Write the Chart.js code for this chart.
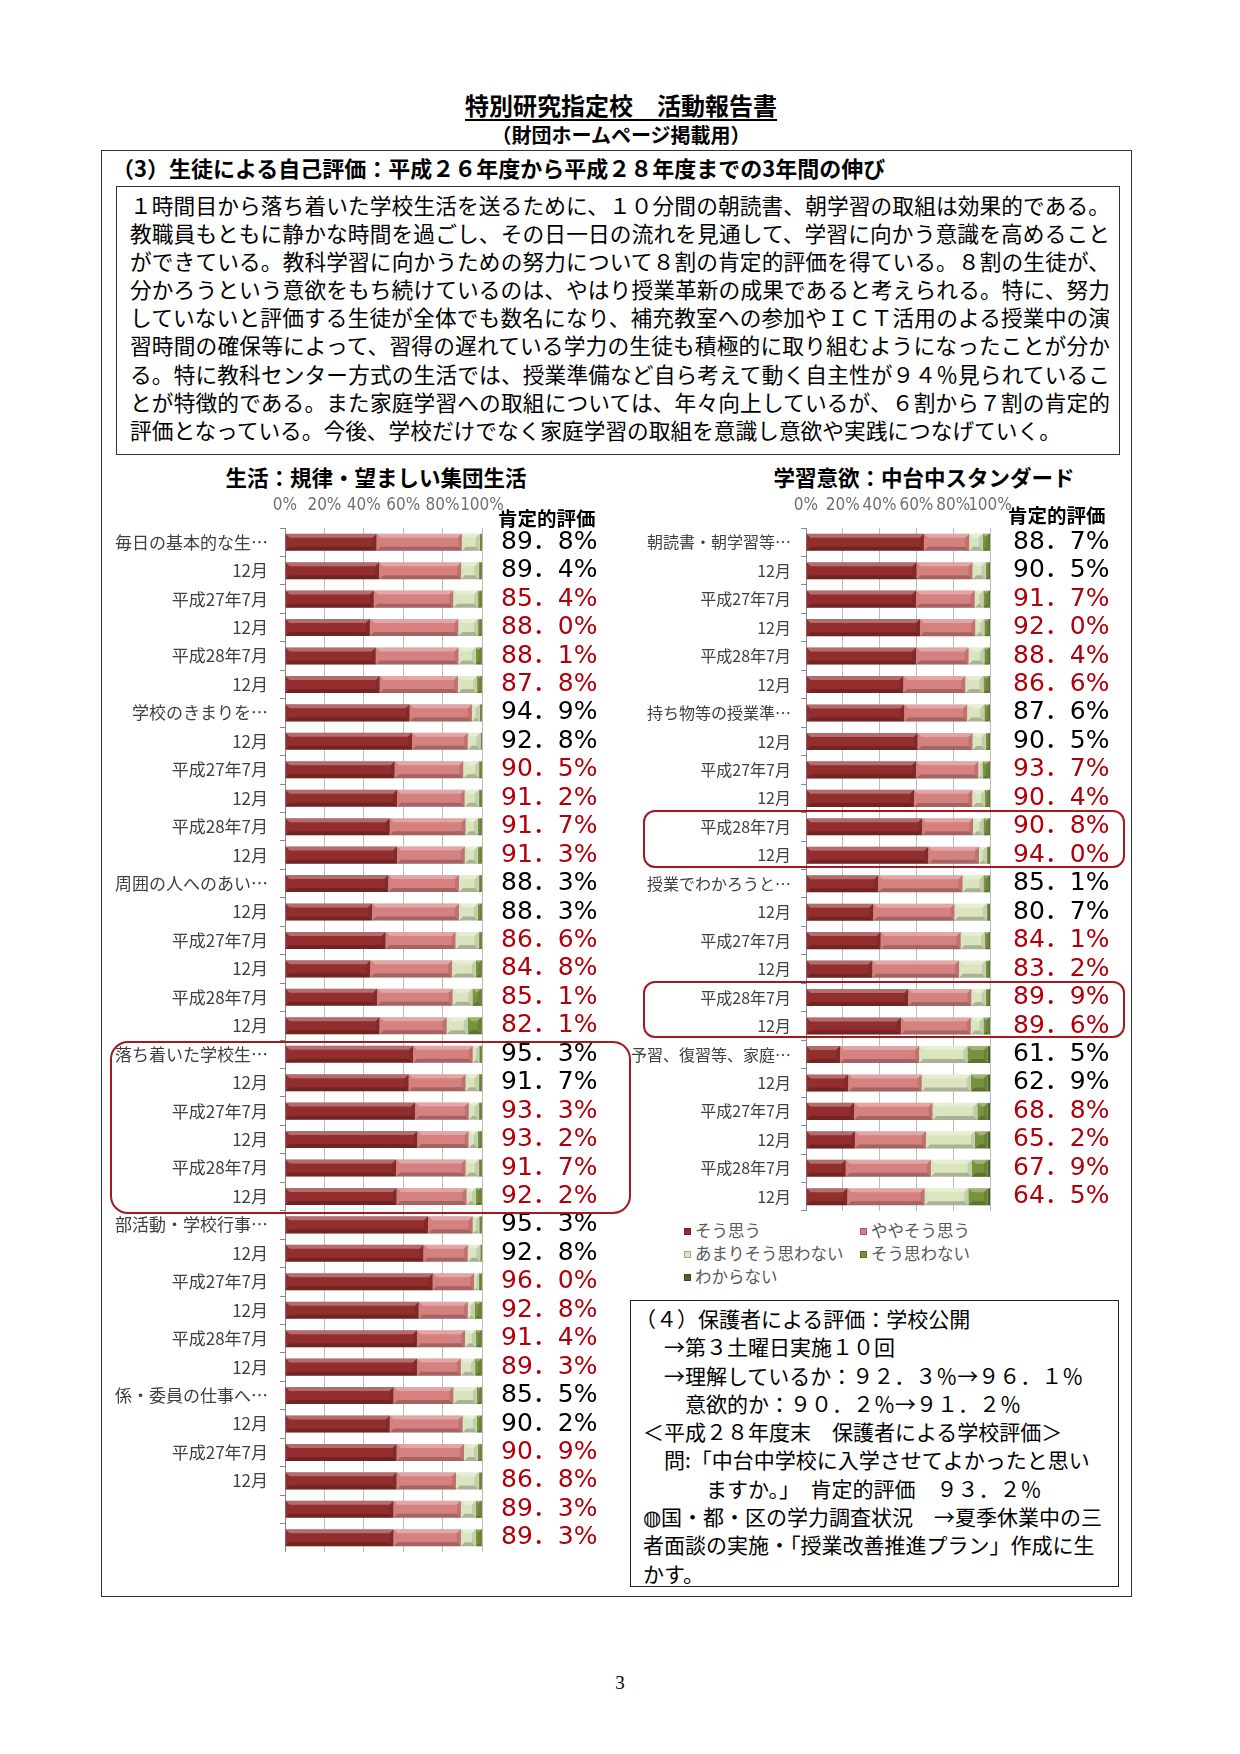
<!DOCTYPE html>
<html lang="ja">
<head>
<meta charset="utf-8">
<title>特別研究指定校 活動報告書</title>
<script src="https://cdn.jsdelivr.net/npm/chart.js@4.4.1/dist/chart.umd.min.js"></script>
<style>
  html, body { margin: 0; padding: 0; background: #fff; }
  body { width: 1240px; height: 1754px; position: relative; overflow: hidden;
         font-family: 'Noto Sans CJK JP', sans-serif; color: #000; }
  .t { position: absolute; white-space: nowrap; line-height: 1; }
  .box { position: absolute; box-sizing: border-box; border: 1px solid #333; }
  .frame { position: absolute; box-sizing: border-box; border: 2.5px solid #a3191f; z-index: 5; }
  canvas { position: absolute; }
  #note { position: absolute; left: 130px; top: 191px; width: 980px; font-size: 21.7px; line-height: 28.1px; }
  #note div { white-space: nowrap; text-align: justify; text-align-last: justify; }
  #note div.last { text-align-last: left; }
  #parents { position: absolute; left: 643px; top: 1304px; font-size: 21px; line-height: 28.3px; }
  #parents div { white-space: pre; }
  #legend { position: absolute; left: 684px; top: 1219px; display: grid;
            grid-template-columns: 176px 176px; font-size: 16.5px; line-height: 23px; color: #595959; }
  #legend span.m { display: inline-block; width: 7px; height: 7px; margin-right: 4px;
                   vertical-align: 2px; box-sizing: border-box; }
</style>
</head>
<body>

<div class="t" style="left:0;width:1242px;text-align:center;top:93px;font-size:24px;font-weight:bold;text-decoration:underline;text-underline-offset:4px;">特別研究指定校　活動報告書</div>
<div class="t" style="left:0;width:1242px;text-align:center;top:125px;font-size:20px;font-weight:bold;">（財団ホームページ掲載用）</div>

<div class="box" style="left:101px;top:150px;width:1031px;height:1447px;"></div>
<div class="t" style="left:112px;top:156px;font-size:22px;font-weight:bold;">（3）生徒による自己評価：平成２６年度から平成２８年度までの3年間の伸び</div>

<div class="box" style="left:116px;top:186px;width:1004px;height:269px;"></div>
<div id="note">
  <div>１時間目から落ち着いた学校生活を送るために、１０分間の朝読書、朝学習の取組は効果的である。</div>
  <div>教職員もともに静かな時間を過ごし、その日一日の流れを見通して、学習に向かう意識を高めること</div>
  <div>ができている。教科学習に向かうための努力について８割の肯定的評価を得ている。８割の生徒が、</div>
  <div>分かろうという意欲をもち続けているのは、やはり授業革新の成果であると考えられる。特に、努力</div>
  <div>していないと評価する生徒が全体でも数名になり、補充教室への参加やＩＣＴ活用のよる授業中の演</div>
  <div>習時間の確保等によって、習得の遅れている学力の生徒も積極的に取り組むようになったことが分か</div>
  <div>る。特に教科センター方式の生活では、授業準備など自ら考えて動く自主性が９４％見られているこ</div>
  <div>とが特徴的である。また家庭学習への取組については、年々向上しているが、６割から７割の肯定的</div>
  <div class="last">評価となっている。今後、学校だけでなく家庭学習の取組を意識し意欲や実践につなげていく。</div>
</div>

<div class="t" style="left:176px;width:400px;text-align:center;top:466px;font-size:21.5px;font-weight:bold;">生活：規律・望ましい集団生活</div>
<div class="t" style="left:724px;width:400px;text-align:center;top:466px;font-size:21.5px;font-weight:bold;">学習意欲：中台中スタンダード</div>

<canvas id="lifeChart" width="510" height="1067" style="left:100px;top:485px;"></canvas>
<canvas id="studyChart" width="510" height="726" style="left:620px;top:485px;"></canvas>

<div class="t" style="left:498px;top:508px;font-size:19.5px;font-weight:bold;">肯定的評価</div>
<div class="t" style="left:1008px;top:505px;font-size:19.5px;font-weight:bold;">肯定的評価</div>

<div class="frame" style="left:110px;top:1041px;width:521px;height:173px;border-radius:18px;"></div>
<div class="frame" style="left:643px;top:810px;width:482px;height:58px;border-radius:12px;"></div>
<div class="frame" style="left:643px;top:981px;width:482px;height:57px;border-radius:12px;"></div>

<div id="legend"></div>

<div class="box" style="left:630px;top:1300px;width:489px;height:287px;border:1.5px solid #222;"></div>
<div id="parents">
  <div style="margin-left:-8px;">（４）保護者による評価：学校公開</div>
  <div>　→第３土曜日実施１０回</div>
  <div>　→理解しているか：９２．３％→９６．１％</div>
  <div>　　意欲的か：９０．２％→９１．２％</div>
  <div>＜平成２８年度末　保護者による学校評価＞</div>
  <div>　問:「中台中学校に入学させてよかったと思い</div>
  <div>　　　ますか。」　肯定的評価　９３．２％</div>
  <div>◍国・都・区の学力調査状況　→夏季休業中の三</div>
  <div>者面談の実施・「授業改善推進プラン」作成に生</div>
  <div>かす。</div>
</div>

<div class="t" style="left:0;width:1240px;text-align:center;top:1673px;font-size:19px;font-family:'Liberation Serif',serif;">3</div>

<script>
// series shared by both charts
var seriesNames = ['そう思う', 'ややそう思う', 'あまりそう思わない', 'そう思わない', 'わからない'];
var seriesColors = ['#922f2e', '#d4817f', '#dae5bf', '#77933c', '#4f6228'];
var axisTicks = [0, 20, 40, 60, 80, 100];

// 生活：規律・望ましい集団生活
var lifeLabels = ['毎日の基本的な生…', '12月', '平成27年7月', '12月', '平成28年7月', '12月',
  '学校のきまりを…', '12月', '平成27年7月', '12月', '平成28年7月', '12月',
  '周囲の人へのあい…', '12月', '平成27年7月', '12月', '平成28年7月', '12月',
  '落ち着いた学校生…', '12月', '平成27年7月', '12月', '平成28年7月', '12月',
  '部活動・学校行事…', '12月', '平成27年7月', '12月', '平成28年7月', '12月',
  '係・委員の仕事へ…', '12月', '平成27年7月', '12月', '', ''];
var lifeAgree = [46.5, 47.8, 45.1, 43.1, 46.1, 48.1, 63.3, 64.5, 55.7, 56.9, 53.2, 56.9,
  52.5, 44.2, 51.1, 43.3, 46.8, 48.0, 65.1, 62.8, 66.0, 67.2, 56.4, 56.7,
  72.6, 70.3, 75.0, 67.9, 67.0, 67.0, 55.1, 53.2, 56.7, 56.7, 55.1, 55.1];
var lifeSomewhat = [43.3, 41.6, 40.3, 44.9, 42.0, 39.7, 31.6, 28.3, 34.8, 34.3, 38.5, 34.4,
  35.8, 44.1, 35.5, 41.5, 38.3, 34.1, 30.2, 28.9, 27.3, 26.0, 35.3, 35.5,
  22.7, 22.5, 21.0, 24.9, 24.4, 22.3, 30.4, 37.0, 34.2, 30.1, 34.2, 34.2];
var lifeNotMuch = [9.0, 8.9, 12.6, 10.0, 8.7, 9.7, 3.9, 6.4, 8.0, 7.1, 6.2, 6.6,
  10.0, 9.6, 11.7, 12.1, 10.0, 10.6, 3.3, 6.6, 5.0, 4.7, 6.6, 4.7,
  3.3, 6.3, 2.3, 3.4, 5.5, 7.2, 11.9, 7.2, 7.0, 11.5, 7.6, 7.6];
var lifeNot = [0.8, 1.3, 1.6, 1.6, 2.8, 2.1, 0.8, 0.4, 1.1, 1.3, 1.7, 1.7,
  1.3, 1.7, 1.3, 2.7, 4.5, 6.9, 1.0, 1.3, 1.3, 1.7, 1.3, 2.7,
  1.0, 0.5, 1.3, 3.4, 2.7, 3.1, 2.2, 2.2, 1.7, 1.3, 2.7, 2.7];
var lifeUnknown = [0.4, 0.4, 0.4, 0.4, 0.4, 0.4, 0.4, 0.4, 0.4, 0.4, 0.4, 0.4,
  0.4, 0.4, 0.4, 0.4, 0.4, 0.4, 0.4, 0.4, 0.4, 0.4, 0.4, 0.4,
  0.4, 0.4, 0.4, 0.4, 0.4, 0.4, 0.4, 0.4, 0.4, 0.4, 0.4, 0.4];
var lifePositive = [89.8, 89.4, 85.4, 88.0, 88.1, 87.8, 94.9, 92.8, 90.5, 91.2, 91.7, 91.3,
  88.3, 88.3, 86.6, 84.8, 85.1, 82.1, 95.3, 91.7, 93.3, 93.2, 91.7, 92.2,
  95.3, 92.8, 96.0, 92.8, 91.4, 89.3, 85.5, 90.2, 90.9, 86.8, 89.3, 89.3];

// 学習意欲：中台中スタンダード
var studyLabels = ['朝読書・朝学習等…', '12月', '平成27年7月', '12月', '平成28年7月', '12月',
  '持ち物等の授業準…', '12月', '平成27年7月', '12月', '平成28年7月', '12月',
  '授業でわかろうと…', '12月', '平成27年7月', '12月', '平成28年7月', '12月',
  '予習、復習等、家庭…', '12月', '平成27年7月', '12月', '平成28年7月', '12月'];
var studyAgree = [64.1, 60.1, 59.8, 62.0, 59.8, 52.9, 53.4, 60.7, 59.8, 58.7, 63.2, 66.5,
  39.3, 36.6, 40.6, 36.1, 55.6, 51.6, 18.5, 23.0, 26.1, 26.6, 21.6, 22.5];
var studySomewhat = [24.6, 30.4, 31.9, 30.0, 28.6, 33.7, 34.2, 29.8, 33.9, 31.7, 27.6, 27.5,
  45.8, 44.1, 43.5, 47.1, 34.3, 38.0, 43.0, 39.9, 42.7, 38.6, 46.3, 42.0];
var studyNotMuch = [7.3, 7.1, 4.7, 4.9, 8.5, 9.8, 9.3, 7.1, 2.3, 6.9, 5.6, 4.2,
  11.3, 17.5, 13.2, 14.6, 7.7, 6.8, 26.2, 26.6, 24.3, 26.6, 22.1, 23.7];
var studyNot = [3.5, 1.9, 3.1, 2.6, 2.6, 3.1, 2.6, 1.9, 3.5, 2.2, 3.1, 1.3,
  3.1, 1.3, 2.2, 1.7, 1.9, 3.1, 11.1, 9.3, 5.7, 7.0, 8.8, 10.6];
var studyUnknown = [0.5, 0.5, 0.5, 0.5, 0.5, 0.5, 0.5, 0.5, 0.5, 0.5, 0.5, 0.5,
  0.5, 0.5, 0.5, 0.5, 0.5, 0.5, 1.2, 1.2, 1.2, 1.2, 1.2, 1.2];
var studyPositive = [88.7, 90.5, 91.7, 92.0, 88.4, 86.6, 87.6, 90.5, 93.7, 90.4, 90.8, 94.0,
  85.1, 80.7, 84.1, 83.2, 89.9, 89.6, 61.5, 62.9, 68.8, 65.2, 67.9, 64.5];

var jpFont = "'Noto Sans CJK JP', sans-serif";
Chart.defaults.font.family = jpFont;

// 89.8 -> "89．8%"
function percentText(v) {
  return v.toFixed(1).replace('.', '．') + '%';
}

// excel-like bevel on each bar segment
var bevel = {
  id: 'bevel',
  afterDatasetsDraw: function (chart) {
    var ctx = chart.ctx;
    ctx.save();
    chart.data.datasets.forEach(function (ds, i) {
      chart.getDatasetMeta(i).data.forEach(function (bar) {
        var p = bar.getProps(['x', 'y', 'base', 'height'], true);
        var left = Math.min(p.base, p.x), w = Math.abs(p.x - p.base);
        var top = p.y - p.height / 2, h = p.height;
        if (w < 1) return;
        var b = Math.min(4, w / 2);
        ctx.fillStyle = 'rgba(255,255,255,0.3)';
        ctx.beginPath();
        ctx.moveTo(left, top); ctx.lineTo(left + w, top);
        ctx.lineTo(left + w - b, top + b); ctx.lineTo(left + b, top + b);
        ctx.closePath(); ctx.fill();
        ctx.fillStyle = 'rgba(0,0,0,0.22)';
        ctx.beginPath();
        ctx.moveTo(left, top + h); ctx.lineTo(left + w, top + h);
        ctx.lineTo(left + w - b, top + h - b); ctx.lineTo(left + b, top + h - b);
        ctx.closePath(); ctx.fill();
        ctx.fillStyle = 'rgba(0,0,0,0.1)';
        ctx.beginPath();
        ctx.moveTo(left + w, top); ctx.lineTo(left + w, top + h);
        ctx.lineTo(left + w - b, top + h - b); ctx.lineTo(left + w - b, top + b);
        ctx.closePath(); ctx.fill();
      });
    });
    ctx.restore();
  }
};

function makeChart(id, labels, series, positive, sizes) {
  var datasets = series.map(function (values, i) {
    return {
      label: seriesNames[i],
      data: values,
      backgroundColor: seriesColors[i],
      borderWidth: 0,
      barPercentage: 0.6,
      categoryPercentage: 1
    };
  });

  return new Chart(document.getElementById(id), {
    type: 'bar',
    data: { labels: labels, datasets: datasets },
    options: {
      indexAxis: 'y',
      responsive: false,
      animation: false,
      layout: { padding: 0 },
      plugins: { legend: { display: false }, tooltip: { enabled: false } },
      scales: {
        x: {
          position: 'top',
          stacked: true,
          min: 0,
          max: 100,
          afterBuildTicks: function (scale) {
            scale.ticks = axisTicks.map(function (v) { return { value: v }; });
          },
          ticks: {
            color: '#707070',
            padding: 12,
            autoSkip: false,
            maxRotation: 0,
            minRotation: 0,
            font: { size: 17, family: "'Liberation Sans Narrow', 'DejaVu Sans Condensed', 'Liberation Sans', sans-serif" },
            callback: function (v) { return v + '%'; }
          },
          grid: { color: '#bcbcbc', drawTicks: false },
          border: { display: false },
          afterFit: function (scale) {
            scale.height = 43;
            scale.paddingLeft = 0;
            scale.paddingRight = 0;
          }
        },
        y: {
          stacked: true,
          ticks: {
            autoSkip: false,
            color: '#404040',
            padding: sizes.labelPad,
            font: { size: sizes.labelSize }
          },
          grid: { offset: true, drawOnChartArea: false, tickLength: 5, color: '#888' },
          border: { color: '#888' },
          afterFit: function (scale) {
            scale.width = sizes.leftW;
            scale.paddingTop = 0;
            scale.paddingBottom = 0;
          }
        },
        y2: {
          type: 'category',
          position: 'right',
          labels: positive.map(percentText),
          offset: true,
          ticks: {
            autoSkip: false,
            padding: sizes.valuePad,
            font: { size: 25, family: "'DejaVu Sans', 'Noto Sans CJK JP', sans-serif" },
            color: function (c) { return c.index % 6 < 2 ? '#000000' : '#b0000c'; }
          },
          grid: { display: false },
          border: { display: false },
          afterFit: function (scale) {
            scale.width = sizes.rightW;
            scale.paddingTop = 0;
            scale.paddingBottom = 0;
          }
        }
      }
    },
    plugins: [bevel]
  });
}

makeChart('lifeChart', lifeLabels,
  [lifeAgree, lifeSomewhat, lifeNotMuch, lifeNot, lifeUnknown], lifePositive,
  { leftW: 185, rightW: 128, labelSize: 17, labelPad: 12, valuePad: 11 });

makeChart('studyChart', studyLabels,
  [studyAgree, studySomewhat, studyNotMuch, studyNot, studyUnknown], studyPositive,
  { leftW: 186, rightW: 140, labelSize: 16, labelPad: 10, valuePad: 15 });

// legend (column layout like the original)
var legend = document.getElementById('legend');
seriesNames.forEach(function (name, i) {
  var item = document.createElement('div');
  var mark = document.createElement('span');
  mark.className = 'm';
  mark.style.background = seriesColors[i];
  mark.style.border = '1px solid rgba(0,0,0,0.25)';
  item.appendChild(mark);
  item.appendChild(document.createTextNode(name));
  legend.appendChild(item);
});
</script>
</body>
</html>
